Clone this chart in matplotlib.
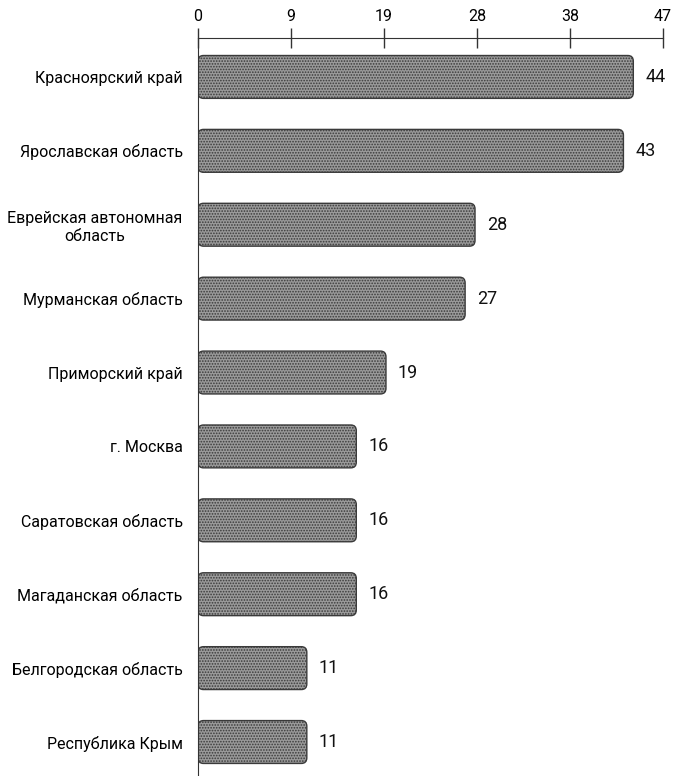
import matplotlib.pyplot as plt
from matplotlib.patches import FancyBboxPatch
import numpy as np

plt.rcParams['font.family'] = ['Roboto', 'DejaVu Sans']
plt.rcParams['hatch.linewidth'] = 0.8

regions = ['Красноярский край', 'Ярославская область',
           'Еврейская автономная\nобласть', 'Мурманская область',
           'Приморский край', 'г. Москва', 'Саратовская область',
           'Магаданская область', 'Белгородская область', 'Республика Крым']
values = [44, 43, 28, 27, 19, 16, 16, 16, 11, 11]
tick_vals = [0, 9.4, 18.8, 28.2, 37.6, 47]
tick_labels = ['0', '9', '19', '28', '38', '47']

fig = plt.figure(figsize=(6.75, 7.76), dpi=100)
ax = fig.add_axes([198/675, 0, 465/675, 1 - 38/776])

y = np.arange(len(values))
bars = ax.barh(y, values, height=0.58)

# swap plain bars for rounded ones with the same geometry
for b in bars:
    b.set_visible(False)
    p = FancyBboxPatch((b.get_x(), b.get_y()), b.get_width(), b.get_height(),
                       boxstyle='round,pad=0,rounding_size=0.55',
                       mutation_aspect=0.14, facecolor='#9a9a9a',
                       edgecolor='#3a3a3a', linewidth=1, hatch='......',
                       zorder=2)
    ax.add_patch(p)

for yi, v in zip(y, values):
    ax.text(v + 1.2, yi, str(v), va='center', ha='left', fontsize=13,
            color='#111111')

ax.set_xlim(0, 47)
ax.set_ylim(9.46, -0.527)
ax.xaxis.tick_top()
ax.set_xticks(tick_vals)
ax.set_xticklabels(tick_labels, fontsize=11.5)
ax.tick_params(axis='x', length=14, width=1, color='#333333', pad=3,
               direction='inout')
ax.set_yticks(y)
ax.set_yticklabels(regions, fontsize=11.5, ha='right', multialignment='center')
ax.tick_params(axis='y', length=0, pad=11)

for s in ['right', 'bottom']:
    ax.spines[s].set_visible(False)
ax.spines['top'].set_color('#333333')
ax.spines['left'].set_color('#333333')
ax.spines['left'].set_zorder(3)

fig.savefig('out.png', dpi=100)
